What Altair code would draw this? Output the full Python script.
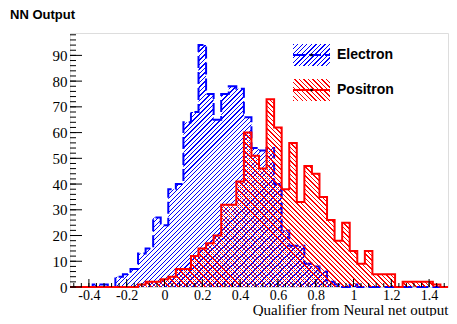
import altair as alt
import pandas as pd

# ---- data ----
XMIN, XMAX, BIN_W = -0.5, 1.5, 0.04
YMAX = 98.7
title_text = ["NN Output"]
names = ["Electron", "Positron"]
electron = [0, 0, 0, 1, 1, 0, 4, 5, 7, 13, 15, 27, 24, 38, 40, 64, 68, 94, 75, 65,
            75, 78, 77, 66, 54, 53, 54, 40, 22, 16, 16, 9, 8, 6, 2, 1, 0, 1, 0, 0,
            0, 0, 0, 0, 0, 0, 0, 0, 0, 0]
positron = [0, 0, 0, 0, 0, 0, 0, 0, 0, 1, 2, 2, 3, 4, 7, 7, 12, 15, 17, 20,
            32, 32, 41, 60, 51, 46, 73, 62, 38, 56, 33, 47, 44, 35, 26, 18, 25, 14, 9, 14,
            5, 5, 5, 0, 2, 2, 2, 2, 1, 0]
x_major = [-0.4, -0.2, 0, 0.2, 0.4, 0.6, 0.8, 1.0, 1.2, 1.4]
x_minor = [round(-0.48 + 0.04 * i, 2) for i in range(50)]
y_major = [0, 10, 20, 30, 40, 50, 60, 70, 80, 90]
y_minor = [v for v in range(0, 99, 2)]

W, H = 378, 254
SERIF = "Liberation Serif"
SANS = "Liberation Sans"


def step_df(vals):
    xs = [XMIN + i * BIN_W for i in range(len(vals))] + [XMAX]
    ys = list(vals) + [vals[-1]]
    return pd.DataFrame({"x": xs, "y": ys})


def hatch(color, bw, bh, spacing=4.5, forward=True, frac=0.3):
    r = bh / bw
    k = (1 + r) / (1 + r * r)
    n = max(1, round((bw + bh) / spacing))
    clear = "rgba(255,255,255,0)"
    stops = []
    for i in range(n):
        a, b, c = i / n, (i + frac) / n, (i + 1) / n
        stops += [alt.GradientStop(offset=a, color=color),
                  alt.GradientStop(offset=b, color=color),
                  alt.GradientStop(offset=b, color=clear),
                  alt.GradientStop(offset=c, color=clear)]
    if forward:
        coords = dict(x1=0, y1=0, x2=k, y2=k * r)
    else:
        coords = dict(x1=0, y1=1, x2=k, y2=1 - k * r)
    return alt.LinearGradient(gradient="linear", stops=stops, **coords)


xscale = alt.Scale(domain=[XMIN, XMAX], nice=False, zero=False)
yscale = alt.Scale(domain=[0, YMAX], nice=False, zero=False)
xaxis = alt.Axis(values=x_major, ticks=False, domain=False, grid=False,
                 labelFont=SERIF, labelFontSize=14, labelColor="black",
                 labelPadding=1, labelFlush=False,
                 labelExpr="replace(format(datum.value, '~g'), '\u2212', '-')",
                 title="Qualifier from Neural net output", titleFont=SERIF,
                 titleFontSize=15, titleFontWeight="normal", titleColor="black",
                 titleAnchor="end", titleAlign="right", titleX=W, titleY=27,
                 titleBaseline="alphabetic")
yaxis = alt.Axis(values=y_major, ticks=False, domain=False, grid=False,
                 labelFont=SERIF, labelFontSize=15, labelColor="black",
                 labelPadding=3, labelFlush=False, title=None)


def X(field):
    return alt.X(field, type="quantitative", scale=xscale, axis=xaxis)


def Y(field):
    return alt.Y(field, type="quantitative", scale=yscale, axis=yaxis)


e_df = step_df(electron)
p_df = step_df(positron)
hE = max(electron) * H / YMAX
hP = max(positron) * H / YMAX

e_area = alt.Chart(e_df).mark_area(
    interpolate="step-after", fill=hatch("#0000ff", W, hE, forward=True), strokeWidth=0
).encode(x=X("x"), y=Y("y"))
e_line = alt.Chart(e_df).mark_line(
    interpolate="step-after", color="#0000ff", strokeWidth=2, strokeDash=[12, 4]
).encode(x=X("x"), y=Y("y"))
p_area = alt.Chart(p_df).mark_area(
    interpolate="step-after", fill=hatch("#ff0000", W, hP, forward=False), strokeWidth=0
).encode(x=X("x"), y=Y("y"))
p_line = alt.Chart(p_df).mark_line(
    interpolate="step-after", color="#ff0000", strokeWidth=2
).encode(x=X("x"), y=Y("y"))

# axis ticks (ROOT style, pointing inward)
ymaj = alt.Chart(pd.DataFrame({"v": y_major})).mark_rule(color="black", strokeWidth=1).encode(
    y=Y("v"), x=alt.value(0), x2=alt.value(12))
ymin_ = alt.Chart(pd.DataFrame({"v": y_minor})).mark_rule(color="black", strokeWidth=1).encode(
    y=Y("v"), x=alt.value(0), x2=alt.value(6))
xmaj = alt.Chart(pd.DataFrame({"v": x_major})).mark_rule(color="black", strokeWidth=1).encode(
    x=X("v"), y=alt.value(H), y2=alt.value(H - 8))
xmin_ = alt.Chart(pd.DataFrame({"v": x_minor})).mark_rule(color="black", strokeWidth=1).encode(
    x=X("v"), y=alt.value(H), y2=alt.value(H - 4))

title = alt.Chart(pd.DataFrame({"t": title_text})).mark_text(
    font=SANS, fontSize=13, fontWeight="bold", align="left", baseline="alphabetic",
    color="black").encode(text="t:N", x=alt.value(-60), y=alt.value(-14))

# legend
LX0, LX1 = 223, 260
leg = []
for i, (nm, col, fwd, dash) in enumerate([(names[0], "#0000ff", True, [12, 4]),
                                          (names[1], "#ff0000", False, None)]):
    cy = 22 + 35 * i
    d = pd.DataFrame({"label": [nm]})
    leg.append(alt.Chart(d).mark_rect(fill=hatch(col, LX1 - LX0, 22, forward=fwd)).encode(
        x=alt.value(LX0), x2=alt.value(LX1), y=alt.value(cy - 11), y2=alt.value(cy + 11)))
    kw = dict(color=col, strokeWidth=2)
    if dash:
        kw["strokeDash"] = dash
    leg.append(alt.Chart(d).mark_rule(**kw).encode(
        x=alt.value(LX0), x2=alt.value(LX1), y=alt.value(cy)))
    leg.append(alt.Chart(d).mark_square(color="black", size=6, opacity=1).encode(
        x=alt.value((LX0 + LX1) / 2), y=alt.value(cy)))
    leg.append(alt.Chart(d).mark_text(font=SANS, fontSize=14, fontWeight="bold",
                                      align="left", baseline="middle", color="black").encode(
        text="label:N", x=alt.value(267), y=alt.value(cy)))

chart = alt.layer(e_area, e_line, p_area, p_line, ymaj, ymin_, xmaj, xmin_, title, *leg).properties(
    width=W, height=H,
    padding={"left": 62, "top": 25, "right": 1, "bottom": 29},
    autosize=alt.AutoSizeParams(type="none"),
).configure_view(stroke="black", strokeWidth=1).configure(background="white")

chart.save("out.html", embed_options={"renderer": "svg", "actions": False})
